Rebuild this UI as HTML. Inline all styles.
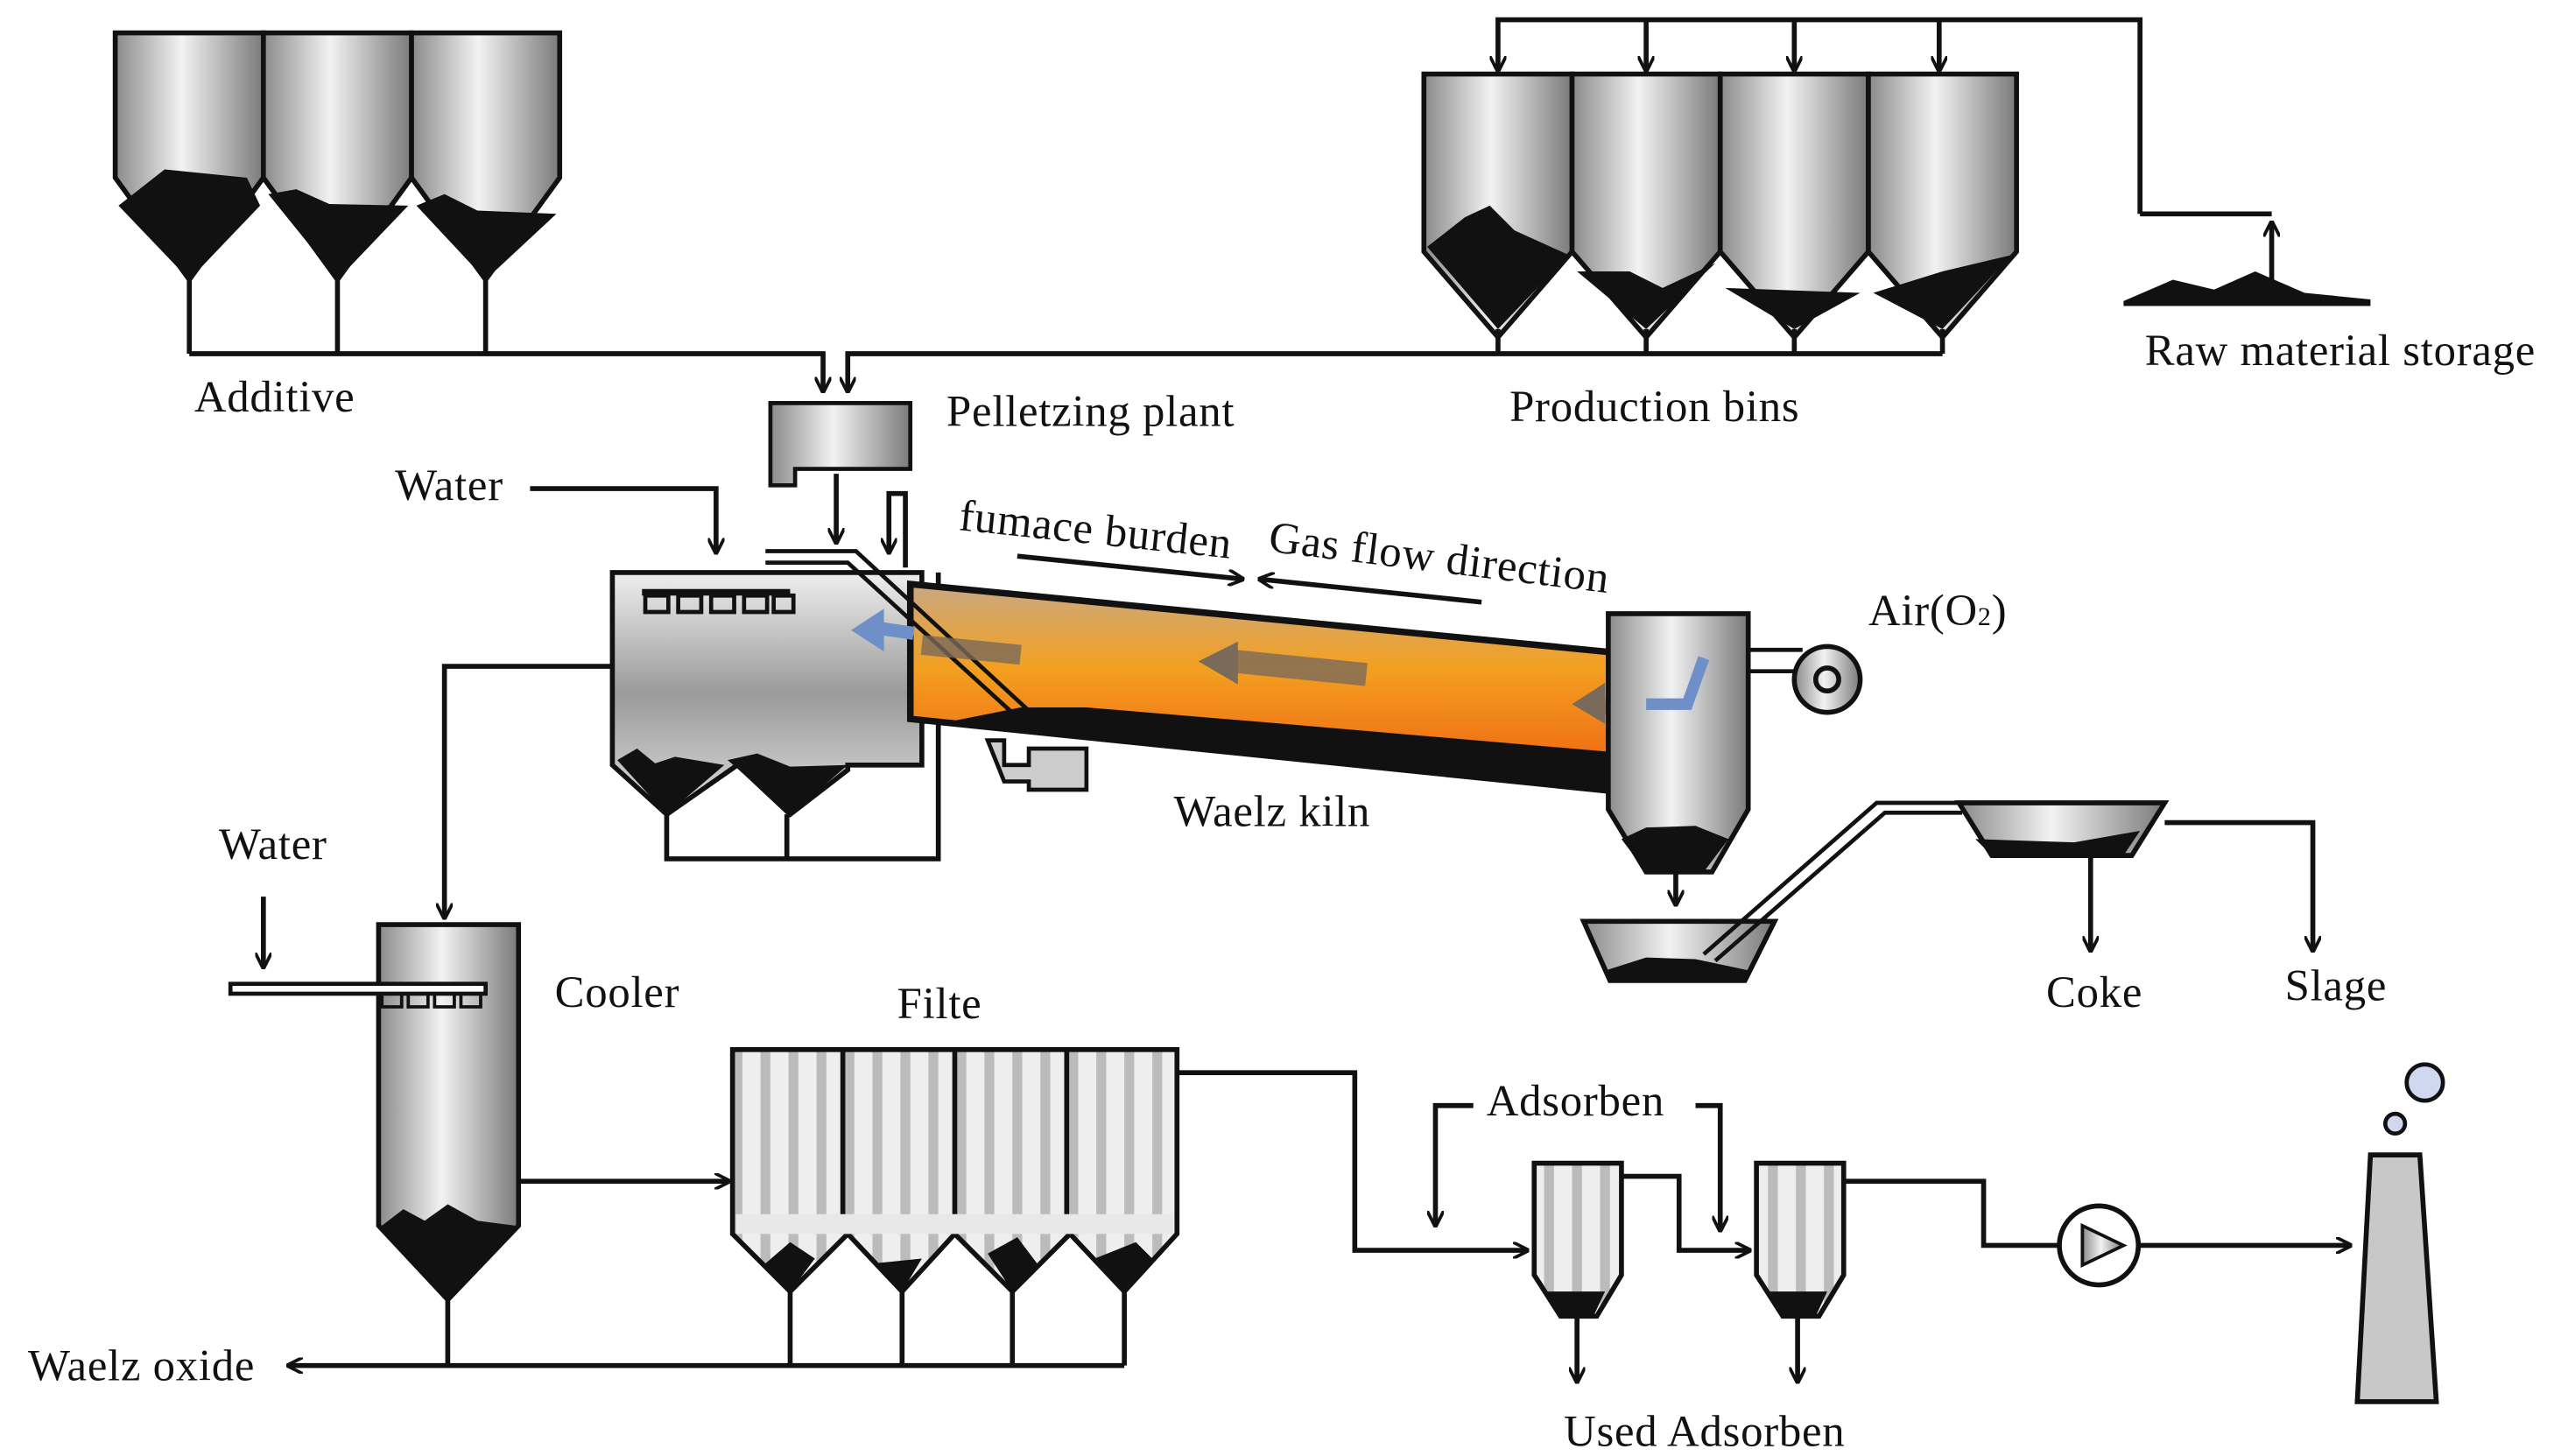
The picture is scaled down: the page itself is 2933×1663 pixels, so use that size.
<!DOCTYPE html>
<html><head><meta charset="utf-8"><style>html,body{margin:0;padding:0;background:#fff}svg{display:block}text{font-family:"Liberation Serif",serif;font-size:27px;letter-spacing:0.4px;fill:#111}</style></head><body>
<svg width="2933" height="1663" viewBox="0 0 1560 885" preserveAspectRatio="none" xmlns="http://www.w3.org/2000/svg">
<defs>
<linearGradient id="g" x1="0" x2="1" y1="0" y2="0"><stop offset="0" stop-color="#8a8a8a"/><stop offset=".45" stop-color="#f2f2f2"/><stop offset="1" stop-color="#7a7a7a"/></linearGradient>
<linearGradient id="gv" x1="0" x2="0" y1="0" y2="1"><stop offset="0" stop-color="#eee"/><stop offset=".5" stop-color="#9a9a9a"/><stop offset="1" stop-color="#ddd"/></linearGradient>
<linearGradient id="fire" x1="0" x2="0" y1="0" y2="1"><stop offset="0" stop-color="#c9a882"/><stop offset=".4" stop-color="#f3a020"/><stop offset="1" stop-color="#ee5a10"/></linearGradient>
<pattern id="st" width="17" height="10" patternUnits="userSpaceOnUse"><rect width="17" height="10" fill="#eee"/><rect x="3" width="6" height="10" fill="#bbb"/></pattern>
<marker id="a" markerWidth="10" markerHeight="10" refX="9" refY="5" orient="auto" markerUnits="userSpaceOnUse"><path d="M0,0 L10,5 L0,10" fill="none" stroke="#111" stroke-width="2"/></marker>
</defs>
<g fill="none" stroke="#111" stroke-width="3">
<path d="M70,20h90v88l-45,62l-45,-62z" fill="url(#g)"/><path d="M160,20h90v88l-45,62l-45,-62z" fill="url(#g)"/><path d="M250,20h90v88l-45,62l-45,-62z" fill="url(#g)"/>
<path d="M72,125 L100,103 L150,108 L158,125 L115,170z M163,118 L180,115 L200,124 L248,125 L205,170z M253,125 L270,118 L290,128 L338,130 L295,170z" fill="#111" stroke="none"/>
<path d="M115,170V215M205,170V215M295,170V215"/><path d="M115,215H500V238" marker-end="url(#a)"/>
<path d="M865,45h90v108l-45,52l-45,-52z" fill="url(#g)"/><path d="M955,45h90v108l-45,52l-45,-52z" fill="url(#g)"/><path d="M1045,45h90v108l-45,52l-45,-52z" fill="url(#g)"/><path d="M1135,45h90v108l-45,52l-45,-52z" fill="url(#g)"/>
<path d="M867,150 L890,132 L905,125 L920,140 L953,155 L910,200z M958,165 L990,165 L1010,175 L1042,160 L1000,200z M1048,175 L1130,178 L1090,200z M1138,178 L1180,165 L1222,155 L1180,200z" fill="#111" stroke="none"/>
<path d="M910,200V215M1000,200V215M1090,200V215M1180,200V215"/><path d="M1180,215H515V238" marker-end="url(#a)"/>
<path d="M1300,130V12H910V43" marker-end="url(#a)"/>
<path d="M1000,12V43" marker-end="url(#a)"/><path d="M1090,12V43" marker-end="url(#a)"/><path d="M1178,12V43" marker-end="url(#a)"/>
<path d="M1300,130H1380"/><path d="M1380,180V135" marker-end="url(#a)"/>
<path d="M1290,183 L1320,170 L1345,176 L1370,165 L1400,178 L1440,182 L1440,186 L1290,186z" fill="#111" stroke="none"/>
<path d="M468,245h85v40h-70v10h-15z" fill="url(#g)" stroke-width="2.5"/>
<path d="M508,288V330" marker-end="url(#a)"/>
<path d="M322,297H435V336" marker-end="url(#a)"/>
<path d="M550,345V300H540V336" marker-end="url(#a)"/>
<path d="M372,348H560V465H515V468L480,495L448,465L405,495L372,465z" fill="url(#gv)"/>
<path d="M375,462L387,455L398,464L410,460L440,465L405,495z M442,462L460,458L480,466L515,465L480,495z" fill="#111" stroke="none"/>
<path d="M390,360H480" stroke-width="4"/>
<path d="M392,362h14v10h-14zM412,362h14v10h-14zM432,362h14v10h-14zM452,362h14v10h-14zM470,362h12v10h-12z" stroke-width="2.5"/>
<path d="M405,495V522H570V348M478,495V522"/>
<path d="M372,405H270V558" marker-end="url(#a)"/>
<path d="M553,355 L995,398 L992,482 L553,437 Z" fill="url(#fire)" stroke-width="4"/>
<path d="M620,430 L660,430 L780,440 L990,458 L992,482 L570,440z" fill="#111" stroke="none"/>
<path d="M465,335 L520,335 L625,432 M465,342 L515,342 L618,436" stroke-width="2.5"/>
<path d="M600,450h10v15h15v-10h35v25h-35v-5h-15z" fill="#ccc" stroke-width="2.5"/>
<path d="M830,410 L750,402" stroke="#7a6a5a" stroke-width="14" opacity=".8"/><path d="M752,390 L728,402 L752,416z" fill="#7a6a5a" stroke="none"/>
<path d="M620,398 L560,392" stroke="#7a6a5a" stroke-width="12" opacity=".8"/>
<path d="M1000,430 L975,428" stroke="#7a6a5a" stroke-width="12" opacity=".8"/><path d="M975,415 L955,428 L975,440z" fill="#7a6a5a" stroke="none"/>
<path d="M555,385 L535,382" stroke="#6f8fc8" stroke-width="8"/><path d="M537,370 L517,383 L537,396z" fill="#6f8fc8" stroke="none"/>
<path d="M618,338 L755,352" marker-end="url(#a)"/><path d="M900,366 L765,352" marker-end="url(#a)"/>
<path d="M977,373H1062V492L1040,530H1000L977,492z" fill="url(#g)"/>
<path d="M985,510 L1000,503 L1030,502 L1050,510 L1035,530 L1000,530z" fill="#111" stroke="none"/>
<path d="M1035,400 L1025,428 L1000,428" stroke="#6f8fc8" stroke-width="7" fill="none"/>
<path d="M1062,395H1095M1062,408H1095" stroke-width="2.5"/>
<circle cx="1110" cy="413" r="20" fill="url(#g)"/><circle cx="1110" cy="413" r="7"/>
<path d="M1018,530V550" marker-end="url(#a)"/>
<path d="M962,560H1078L1060,596H978z" fill="url(#g)"/><path d="M975,590L1000,582L1030,583L1063,590L1060,596H978z" fill="#111" stroke="none"/>
<path d="M1035,580 L1140,488 H1192 M1042,584 L1145,494 H1192" stroke-width="2.5"/>
<path d="M1190,488H1315L1295,520H1210z" fill="url(#g)"/><path d="M1200,510 L1260,512 L1300,505 L1290,520 H1210z" fill="#111" stroke="none"/>
<path d="M1270,520V578" marker-end="url(#a)"/><path d="M1315,500H1405V578" marker-end="url(#a)"/>
<path d="M230,562H315V745L272,790L230,745z" fill="url(#g)"/>
<path d="M232,745L245,735L258,742L272,732L290,742L313,745L272,790z" fill="#111" stroke="none"/>
<path d="M160,545V588" marker-end="url(#a)"/>
<rect x="140" y="598" width="155" height="6" fill="#fff" stroke-width="2.5"/>
<path d="M232,604h12v8h-12zM248,604h12v8h-12zM264,604h12v8h-12zM280,604h12v8h-12z" stroke-width="2"/>
<path d="M315,718H443" marker-end="url(#a)"/>
<path d="M445,638H715V750L683,785L650,750L615,785L580,750L548,785L515,750L480,785L445,750z" fill="url(#st)"/>
<path d="M512,638V750M580,638V750M648,638V750"/>
<path d="M447,738H713V750H447z" fill="#e8e8e8" stroke="none"/>
<path d="M465,768L480,755L495,765L480,785z M530,768L560,765L548,785z M600,762L618,752L630,768L615,785z M665,765L690,755L700,765L683,785z" fill="#111" stroke="none"/>
<path d="M480,785V830M548,785V830M615,785V830M683,785V830M272,790V830"/><path d="M683,830H175" marker-end="url(#a)"/>
<path d="M715,652H823V760H928" marker-end="url(#a)"/>
<path d="M932,707H985V775L970,800H948L932,775z" fill="url(#st)"/><path d="M940,785L975,785L968,800H948z" fill="#111" stroke="none"/>
<path d="M1067,707H1120V775L1105,800H1083L1067,775z" fill="url(#st)"/><path d="M1075,785L1110,785L1103,800H1083z" fill="#111" stroke="none"/>
<path d="M895,672H872V745" marker-end="url(#a)"/>
<path d="M1030,672H1045V748" marker-end="url(#a)"/>
<path d="M985,715H1020V760H1063" marker-end="url(#a)"/>
<path d="M958,800V840" marker-end="url(#a)"/><path d="M1092,800V840" marker-end="url(#a)"/>
<path d="M1120,718H1205V757H1250"/>
<circle cx="1275" cy="757" r="24" fill="#fff"/><path d="M1265,745L1290,757L1265,769z" fill="url(#g)" stroke-width="2"/>
<path d="M1299,757H1428" marker-end="url(#a)"/>
<path d="M1440,702H1470L1480,852H1432z" fill="#c8c8c8"/>
<circle cx="1473" cy="658" r="11" fill="#cfd8ee" stroke-width="2.5"/><circle cx="1455" cy="683" r="6" fill="#cfd8ee" stroke-width="2.5"/>
</g>
<text x="118" y="250">Additive</text>
<text x="575" y="259">Pelletzing plant</text>
<text x="917" y="256">Production bins</text>
<text x="1303" y="222">Raw material storage</text>
<text x="240" y="304">Water</text>
<text x="582" y="322" transform="rotate(6 582 322)">fumace burden</text>
<text x="770" y="335" transform="rotate(7 770 335)">Gas flow direction</text>
<text x="1135" y="380">Air(O<tspan font-size="16">2</tspan>)</text>
<text x="713" y="502">Waelz kiln</text>
<text x="133" y="522">Water</text>
<text x="337" y="612">Cooler</text>
<text x="545" y="619">Filte</text>
<text x="1243" y="612">Coke</text>
<text x="1388" y="608">Slage</text>
<text x="903" y="678">Adsorben</text>
<text x="17" y="839">Waelz oxide</text>
<text x="950" y="879">Used Adsorben</text>
</svg>
</body></html>
